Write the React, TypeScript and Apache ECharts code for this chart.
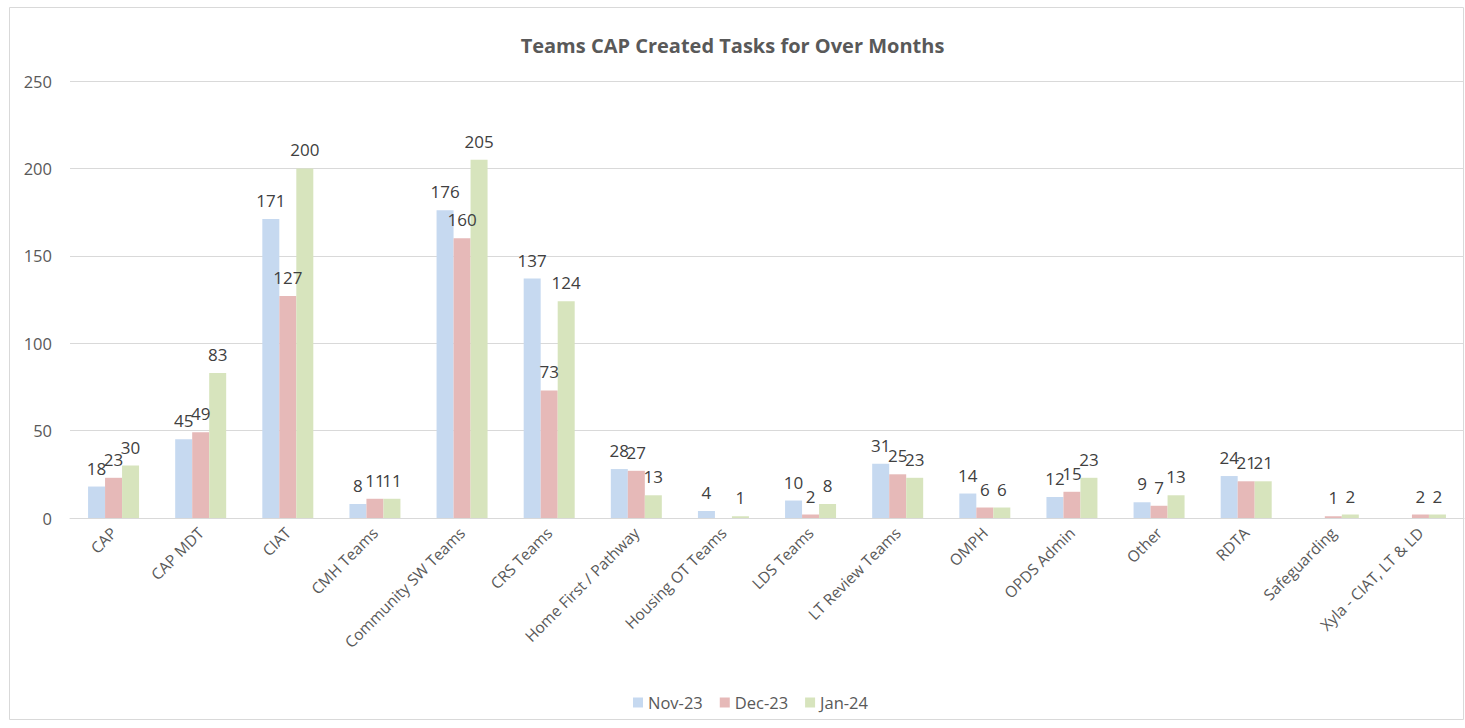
import React, { useEffect, useRef } from "react";
import * as echarts from "echarts";

const categories = [
  "CAP",
  "CAP MDT",
  "CIAT",
  "CMH Teams",
  "Community SW Teams",
  "CRS Teams",
  "Home First / Pathway",
  "Housing OT Teams",
  "LDS Teams",
  "LT Review Teams",
  "OMPH",
  "OPDS Admin",
  "Other",
  "RDTA",
  "Safeguarding",
  "Xyla - CIAT, LT & LD",
];

const nov23 = [18, 45, 171, 8, 176, 137, 28, 4, 10, 31, 14, 12, 9, 24, null, null];
const dec23 = [23, 49, 127, 11, 160, 73, 27, null, 2, 25, 6, 15, 7, 21, 1, 2];
const jan24 = [30, 83, 200, 11, 205, 124, 13, 1, 8, 23, 6, 23, 13, 21, 2, 2];

const seriesNames = ["Nov-23", "Dec-23", "Jan-24"];
const yTicks = { min: 0, max: 250, interval: 50 };

const colors = ["#C6D9F0", "#E6B9B8", "#D7E4BD"];
const FONT = "'Open Sans', 'Noto Sans', sans-serif";

export default function App() {
  const ref = useRef<HTMLDivElement>(null);

  useEffect(() => {
    if (!ref.current) return;
    const chart = echarts.init(ref.current, null, { renderer: "svg" });
    const allData = [nov23, dec23, jan24];
    chart.setOption({
      animation: false,
      backgroundColor: "#ffffff",
      textStyle: { fontFamily: FONT },
      title: {
        text: "Teams CAP Created Tasks for Over Months",
        left: "center",
        top: 30,
        textStyle: {
          fontFamily: FONT,
          fontSize: 20,
          fontWeight: "bold",
          color: "#595959",
        },
      },
      legend: {
        data: seriesNames,
        bottom: 12,
        left: 628,
        itemWidth: 10,
        itemHeight: 10,
        itemGap: 17,
        icon: "rect",
        textStyle: { fontFamily: FONT, fontSize: 16.5, color: "#595959" },
      },
      grid: { left: 70, right: 1, top: 81, bottom: 210, containLabel: false },
      xAxis: {
        type: "category",
        data: categories,
        axisLine: { show: true, lineStyle: { color: "#d9d9d9", width: 1 } },
        axisTick: { show: false },
        axisLabel: {
          rotate: 45,
          interval: 0,
          margin: 12,
          fontFamily: FONT,
          fontSize: 15.5,
          color: "#595959",
        },
      },
      yAxis: {
        type: "value",
        min: yTicks.min,
        max: yTicks.max,
        interval: yTicks.interval,
        axisLine: { show: false },
        axisTick: { show: false },
        splitLine: { lineStyle: { color: "#d9d9d9", width: 1 } },
        axisLabel: { margin: 18, fontFamily: FONT, fontSize: 16.5, color: "#595959" },
      },
      series: seriesNames.map((name, i) => ({
        name,
        type: "bar",
        data: allData[i],
        barWidth: 17,
        barGap: "0%",
        itemStyle: { color: colors[i] },
        label: {
          show: true,
          position: "top",
          distance: 10,
          fontFamily: FONT,
          fontSize: 17,
          color: "#404040",
        },
      })),
      graphic: [
        {
          type: "rect",
          shape: { x: 9.5, y: 7.5, width: 1454, height: 712 },
          style: { fill: "none", stroke: "#d9d9d9", lineWidth: 1 },
          silent: true,
          z: -1,
        },
      ],
    });
    return () => chart.dispose();
  }, []);

  return (
    <div
      ref={ref}
      style={{ position: "fixed", left: 0, top: 0, width: 1465, height: 728 }}
    />
  );
}
